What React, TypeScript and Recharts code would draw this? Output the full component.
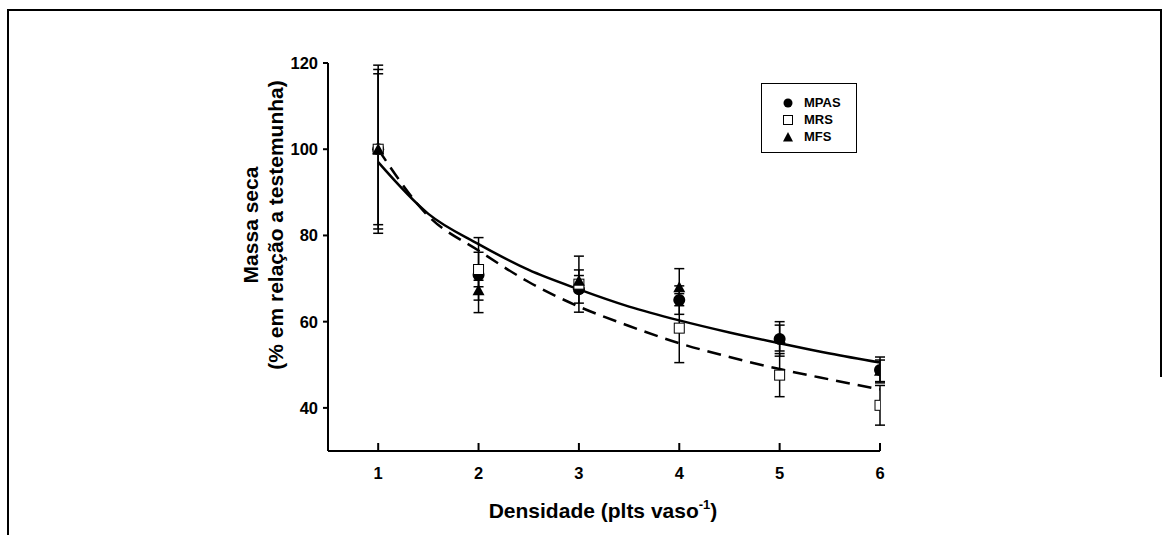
import React from 'react';
import { ComposedChart, Line, Scatter, ErrorBar, XAxis, YAxis, Legend, Label } from 'recharts';

// Means and error (± half range) per density
const densities = [1, 2, 3, 4, 5, 6];
const mpasMean = [100, 70.8, 67.5, 65.0, 56.0, 48.8];
const mpasErr = [19.5, 8.7, 3.2, 3.3, 4.0, 3.0];
const mrsMean = [100, 72.1, 68.7, 58.5, 47.6, 40.6];
const mrsErr = [18.5, 4.0, 6.5, 8.0, 5.0, 4.6];
const mfsMean = [100, 67.3, 69.5, 68.0, 56.2, 48.6];
const mfsErr = [17.5, 2.3, 2.5, 4.3, 3.0, 2.5];

// Fitted curves (solid: MPAS, dashed: MRS)
const curveX = [1, 1.5, 2, 2.5, 3, 3.5, 4, 4.5, 5, 5.5, 6];
const solidFit = [97, 85, 78, 72, 67.5, 63.5, 60.3, 57.5, 55, 52.6, 50.5];
const dashedFit = [100, 84.5, 76.5, 69.2, 63.5, 59, 55, 51.8, 49, 46.6, 44.3];

const yTicks = [40, 60, 80, 100, 120];
const FONT = '"Liberation Sans", Arial, sans-serif';

const toPoints = (mean: number[], err: number[]) =>
  densities.map((x, i) => ({ x, y: mean[i], err: err[i] }));

const solidData = curveX.map((x, i) => ({ x, y: solidFit[i] }));
const dashedData = curveX.map((x, i) => ({ x, y: dashedFit[i] }));

const CircleDot = (p: any) => <circle cx={p.cx} cy={p.cy} r={6} fill="#000" />;
const SquareDot = (p: any) => (
  <rect x={p.cx - 5} y={p.cy - 5} width={10} height={10} fill="#fff" stroke="#000" strokeWidth={1} />
);
const TriangleDot = (p: any) => (
  <polygon points={`${p.cx},${p.cy - 6} ${p.cx + 6},${p.cy + 5} ${p.cx - 6},${p.cy + 5}`} fill="#000" />
);

const XTick = (props: any) => {
  const { x, y, payload } = props;
  return (
    <g>
      <line x1={x} y1={y} x2={x} y2={y - 8} stroke="#000" strokeWidth={2} />
      <text x={x} y={y + 22} textAnchor="middle" dominantBaseline="central"
        fontFamily={FONT} fontWeight="bold" fontSize={16.5} fill="#000">
        {payload.value}
      </text>
    </g>
  );
};

const LegendBox = () => {
  const rows = [
    { name: 'MPAS', icon: <circle cx={6} cy={6} r={4.5} fill="#000" /> },
    { name: 'MRS', icon: <rect x={1.5} y={1.5} width={9} height={9} fill="#fff" stroke="#000" strokeWidth={1} /> },
    { name: 'MFS', icon: <polygon points="6,1 11,10.5 1,10.5" fill="#000" /> },
  ];
  return (
    <div style={{
      width: 96, height: 70, boxSizing: 'border-box', border: '1.5px solid #000',
      background: '#fff', paddingTop: 10, fontFamily: FONT
    }}>
      {rows.map(r => (
        <div key={r.name} style={{ display: 'flex', alignItems: 'center', height: 17 }}>
          <svg width={12} height={12} style={{ marginLeft: 20 }}>{r.icon}</svg>
          <span style={{ marginLeft: 10, fontSize: 13, fontWeight: 'bold' }}>{r.name}</span>
        </div>
      ))}
    </div>
  );
};

const YTitle = () => (
  <g fontFamily={FONT} fontWeight="bold" fontSize={21} fill="#000">
    <text x={250} y={225} transform="rotate(-90, 250, 225)" textAnchor="middle" dominantBaseline="central">
      Massa seca
    </text>
    <text x={275} y={225} transform="rotate(-90, 275, 225)" textAnchor="middle" dominantBaseline="central">
      (% em relação a testemunha)
    </text>
  </g>
);

const XTitle = () => (
  <text x={603} y={518} textAnchor="middle" fontFamily={FONT} fontWeight="bold" fontSize={21} fill="#000">
    Densidade (plts vaso<tspan dy={-9} fontSize={13}>-1</tspan><tspan dy={9}>)</tspan>
  </text>
);

export default function App() {
  return (
    <div style={{ position: 'absolute', left: 0, top: 0, width: 1169, height: 535, background: '#fff' }}>
      {/* page frame */}
      <div style={{ position: 'absolute', left: 7, top: 9, width: 1155, height: 2, background: '#000' }} />
      <div style={{ position: 'absolute', left: 7, top: 9, width: 2, height: 526, background: '#000' }} />
      <div style={{ position: 'absolute', left: 1160, top: 9, width: 2, height: 368, background: '#000' }} />
      <div style={{ position: 'absolute', left: 0, top: 0 }}>
        <ComposedChart width={1169} height={535} margin={{ top: 63, right: 289, bottom: 0, left: 0 }}>
          <XAxis
            dataKey="x"
            type="number"
            domain={[0.5, 6]}
            ticks={densities}
            allowDataOverflow
            height={84}
            tickSize={0}
            tickMargin={0}
            tickLine={false}
            tick={<XTick />}
            axisLine={{ stroke: '#000', strokeWidth: 2 }}
          >
            <Label content={<XTitle />} />
          </XAxis>
          <YAxis
            type="number"
            domain={[30, 120]}
            ticks={yTicks}
            allowDataOverflow
            width={328}
            tickSize={5}
            tickMargin={5}
            tickLine={{ stroke: '#000', strokeWidth: 2 }}
            axisLine={{ stroke: '#000', strokeWidth: 2 }}
            tick={{ fill: '#000', fontFamily: FONT, fontWeight: 'bold', fontSize: 16.5 }}
          >
            <Label content={<YTitle />} />
          </YAxis>
          <Legend
            layout="horizontal"
            align="center"
            verticalAlign="middle"
            content={<LegendBox />}
            wrapperStyle={{ position: 'absolute', left: 761, top: 83, width: 96, height: 70 }}
          />
          <Line data={solidData} dataKey="y" type="monotone" stroke="#000" strokeWidth={2.5}
            dot={false} activeDot={false} isAnimationActive={false} legendType="none" />
          <Line data={dashedData} dataKey="y" type="monotone" stroke="#000" strokeWidth={2.5}
            strokeDasharray="14 8" dot={false} activeDot={false} isAnimationActive={false} legendType="none" />
          <Scatter name="MPAS" data={toPoints(mpasMean, mpasErr)} dataKey="y" shape={<CircleDot />} isAnimationActive={false}>
            <ErrorBar dataKey="err" direction="y" width={5} stroke="#000" strokeWidth={1.5} />
          </Scatter>
          <Scatter name="MRS" data={toPoints(mrsMean, mrsErr)} dataKey="y" shape={<SquareDot />} isAnimationActive={false}>
            <ErrorBar dataKey="err" direction="y" width={5} stroke="#000" strokeWidth={1.5} />
          </Scatter>
          <Scatter name="MFS" data={toPoints(mfsMean, mfsErr)} dataKey="y" shape={<TriangleDot />} isAnimationActive={false}>
            <ErrorBar dataKey="err" direction="y" width={5} stroke="#000" strokeWidth={1.5} />
          </Scatter>
        </ComposedChart>
      </div>
    </div>
  );
}
